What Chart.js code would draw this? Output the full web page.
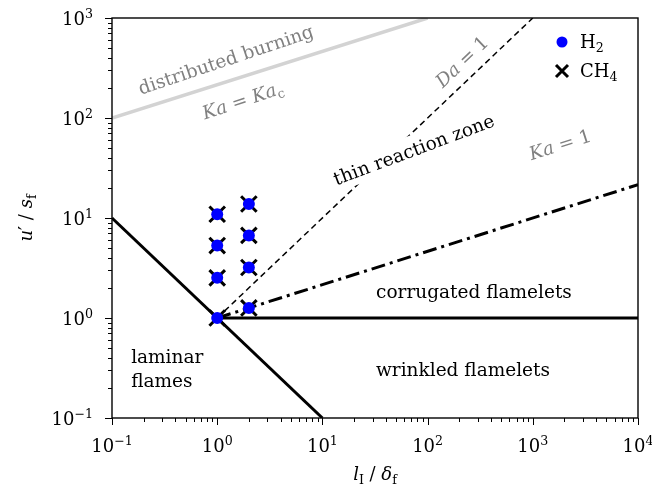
<!DOCTYPE html>
<html>
<head>
<meta charset="utf-8">
<script src="https://cdn.jsdelivr.net/npm/chart.js@4.4.0/dist/chart.umd.min.js"></script>
<style>
  html, body { margin: 0; padding: 0; background: #fff; }
</style>
</head>
<body>
<canvas id="regimeChart" width="652" height="487"></canvas>
<script>
// measured cases (l_I/delta_f, u'/s_f)
const h2Length = [1, 1, 1, 1, 2, 2, 2, 2];
const h2Velocity = [1, 2.52, 5.3, 10.9, 1.26, 3.2, 6.7, 13.8];
const ch4Length = [1, 1, 1, 1, 2, 2, 2, 2];
const ch4Velocity = [1, 2.52, 5.3, 10.9, 1.26, 3.2, 6.7, 13.8];

// regime boundaries
const reOneX = [0.1, 10];          // Re = 1
const reOneY = [10, 0.1];
const flameletX = [1, 10000];      // u'/sf = 1
const flameletY = [1, 1];
const daOneX = [1, 1000];          // Da = 1
const daOneY = [1, 1000];
const kaOneX = [1, 10000];         // Ka = 1
const kaOneY = [1, 21.54];
const kaCritX = [0.1, 100];        // Ka = Ka_c
const kaCritY = [100, 1000];

// axis ticks
const xTicks = [0.1, 1, 10, 100, 1000, 10000];
const xTickExp = ['\u22121', '0', '1', '2', '3', '4'];
const yTicks = [0.1, 1, 10, 100, 1000];
const yTickExp = ['\u22121', '0', '1', '2', '3'];

const serif = '"DejaVu Serif", serif';
const FS = 18.5;   // annotations
const TS = 18;     // tick labels / titles

function pts(xs, ys) {
    return xs.map((x, i) => ({ x: x, y: ys[i] }));
}

function boundary(xs, ys, color, width, dash, order) {
    return {
        type: 'line',
        data: pts(xs, ys),
        borderColor: color,
        borderWidth: width,
        borderDash: dash,
        borderCapStyle: 'butt',
        pointRadius: 0,
        fill: false,
        tension: 0,
        order: order
    };
}

function fontOf(size, italic) {
    return (italic ? 'italic ' : '') + size + 'px ' + serif;
}

// parts: [text, italic, 'sub'|'sup'|undefined]
function richWidth(ctx, parts, size) {
    let w = 0;
    parts.forEach(p => {
        ctx.font = fontOf(p[2] ? size * 0.7 : size, p[1]);
        w += ctx.measureText(p[0]).width;
    });
    return w;
}

function drawRich(ctx, parts, x, y, size, align, color) {
    const w = richWidth(ctx, parts, size);
    let cx = align === 'center' ? x - w / 2 : (align === 'right' ? x - w : x);
    ctx.fillStyle = color;
    ctx.textAlign = 'left';
    ctx.textBaseline = 'alphabetic';
    parts.forEach(p => {
        const sz = p[2] ? size * 0.7 : size;
        ctx.font = fontOf(sz, p[1]);
        let dy = 0;
        if (p[2] === 'sub') dy = size * 0.2;
        if (p[2] === 'sup') dy = -size * 0.4;
        ctx.fillText(p[0], cx, y + dy);
        cx += ctx.measureText(p[0]).width;
    });
    return w;
}

// text notes placed in data coordinates
const notes = [
    { parts: [['distributed burning', false]], x: 1.21, y: 382, rot: -18.5, color: '#808080' },
    { parts: [['K', true], ['a', true], [' = ', false], ['K', true], ['a', true], ['c', false, 'sub']], x: 1.75, y: 150, rot: -18.5, color: '#808080' },
    { parts: [['D', true], ['a', true], [' = 1', false]], x: 212, y: 365, rot: -43.6, color: '#808080' },
    { parts: [['thin reaction zone', false]], x: 74, y: 48, rot: -20.5, color: '#000', box: true },
    { parts: [['K', true], ['a', true], [' = 1', false]], x: 1820, y: 54, rot: -17.6, color: '#808080' },
    { parts: [['corrugated flamelets', false]], x: 276, y: 1.81, rot: 0, color: '#000' },
    { parts: [['wrinkled flamelets', false]], x: 217, y: 0.30, rot: 0, color: '#000' }
];

const decorPlugin = {
    id: 'decor',
    afterDatasetsDraw(chart) {
        const ctx = chart.ctx;
        const xs = chart.scales.x, ys = chart.scales.y;
        const a = chart.chartArea;
        ctx.save();

        // notes
        notes.forEach(n => {
            const px = xs.getPixelForValue(n.x), py = ys.getPixelForValue(n.y);
            ctx.save();
            ctx.translate(px, py);
            ctx.rotate(n.rot * Math.PI / 180);
            if (n.box) {
                const w = richWidth(ctx, n.parts, FS);
                ctx.fillStyle = '#fff';
                ctx.fillRect(-w / 2 - 4, -FS * 0.8, w + 8, FS * 1.5);
            }
            drawRich(ctx, n.parts, 0, FS * 0.33, FS, 'center', n.color);
            ctx.restore();
        });

        // laminar flames (left aligned, two lines)
        const lx = xs.getPixelForValue(0.152);
        drawRich(ctx, [['laminar', false]], lx, ys.getPixelForValue(0.405) + 6, FS, 'left', '#000');
        drawRich(ctx, [['flames', false]], lx, ys.getPixelForValue(0.233) + 6, FS, 'left', '#000');

        // frame
        ctx.strokeStyle = '#000';
        ctx.lineWidth = 1.4;
        ctx.strokeRect(a.left, a.top, a.right - a.left, a.bottom - a.top);

        // ticks
        ctx.lineWidth = 1;
        ctx.beginPath();
        for (let e = -1; e <= 4; e++) {
            for (let m = 1; m <= 9; m++) {
                const v = m * Math.pow(10, e);
                if (v < xs.min * 0.999 || v > xs.max * 1.001) continue;
                const p = Math.round(xs.getPixelForValue(v)) + 0.5;
                ctx.moveTo(p, a.bottom);
                ctx.lineTo(p, a.bottom + (m === 1 ? 7 : 4));
            }
        }
        for (let e = -1; e <= 3; e++) {
            for (let m = 1; m <= 9; m++) {
                const v = m * Math.pow(10, e);
                if (v < ys.min * 0.999 || v > ys.max * 1.001) continue;
                const p = Math.round(ys.getPixelForValue(v)) + 0.5;
                ctx.moveTo(a.left, p);
                ctx.lineTo(a.left - (m === 1 ? 7 : 4), p);
            }
        }
        ctx.stroke();

        // tick labels
        xTicks.forEach((v, i) => {
            drawRich(ctx, [['10', false], [xTickExp[i], false, 'sup']], xs.getPixelForValue(v), a.bottom + 34, TS, 'center', '#000');
        });
        yTicks.forEach((v, i) => {
            drawRich(ctx, [['10', false], [yTickExp[i], false, 'sup']], a.left - 19, ys.getPixelForValue(v) + 7, TS, 'right', '#000');
        });

        // axis titles
        drawRich(ctx, [['l', true], ['I', false, 'sub'], [' / ', false], ['\u03b4', true], ['f', false, 'sub']],
            (a.left + a.right) / 2, 480, TS, 'center', '#000');
        ctx.save();
        ctx.translate(32, (a.top + a.bottom) / 2);
        ctx.rotate(-Math.PI / 2);
        drawRich(ctx, [['u', true], ['\u2032', false], [' / ', false], ['s', true], ['f', false, 'sub']], 0, 0, TS, 'center', '#000');
        ctx.restore();

        // legend
        const lgX = 562;
        ctx.fillStyle = '#0000ff';
        ctx.beginPath();
        ctx.arc(lgX, 42, 5.5, 0, Math.PI * 2);
        ctx.fill();
        ctx.strokeStyle = '#000';
        ctx.lineWidth = 3;
        ctx.beginPath();
        ctx.moveTo(lgX - 6, 65); ctx.lineTo(lgX + 6, 77);
        ctx.moveTo(lgX - 6, 77); ctx.lineTo(lgX + 6, 65);
        ctx.stroke();
        drawRich(ctx, [['H', false], ['2', false, 'sub']], 580, 48, TS, 'left', '#000');
        drawRich(ctx, [['CH', false], ['4', false, 'sub']], 580, 77, TS, 'left', '#000');

        ctx.restore();
    }
};

new Chart(document.getElementById('regimeChart'), {
    type: 'scatter',
    data: {
        datasets: [
            {
                label: 'H2',
                data: pts(h2Length, h2Velocity),
                pointStyle: 'circle',
                pointRadius: 6,
                pointBackgroundColor: '#0000ff',
                pointBorderColor: '#0000ff',
                pointBorderWidth: 0,
                order: 0
            },
            {
                label: 'CH4',
                data: pts(ch4Length, ch4Velocity),
                pointStyle: 'crossRot',
                pointRadius: 11,
                pointBorderColor: '#000',
                pointBorderWidth: 3,
                order: 1
            },
            boundary(kaCritX, kaCritY, '#d3d3d3', 3.5, [], 6),
            boundary(reOneX, reOneY, '#000', 3, [], 2),
            boundary(flameletX, flameletY, '#000', 3, [], 3),
            boundary(daOneX, daOneY, '#000', 1.5, [6, 4], 4),
            boundary(kaOneX, kaOneY, '#000', 3, [14, 5, 3, 5], 5)
        ]
    },
    options: {
        responsive: false,
        animation: false,
        devicePixelRatio: 1,
        layout: { padding: { left: 112, right: 14, top: 18, bottom: 69 } },
        plugins: {
            legend: { display: false },
            tooltip: { enabled: false }
        },
        scales: {
            x: { type: 'logarithmic', min: 0.1, max: 10000, display: false },
            y: { type: 'logarithmic', min: 0.1, max: 1000, display: false }
        }
    },
    plugins: [decorPlugin]
});
</script>
</body>
</html>
